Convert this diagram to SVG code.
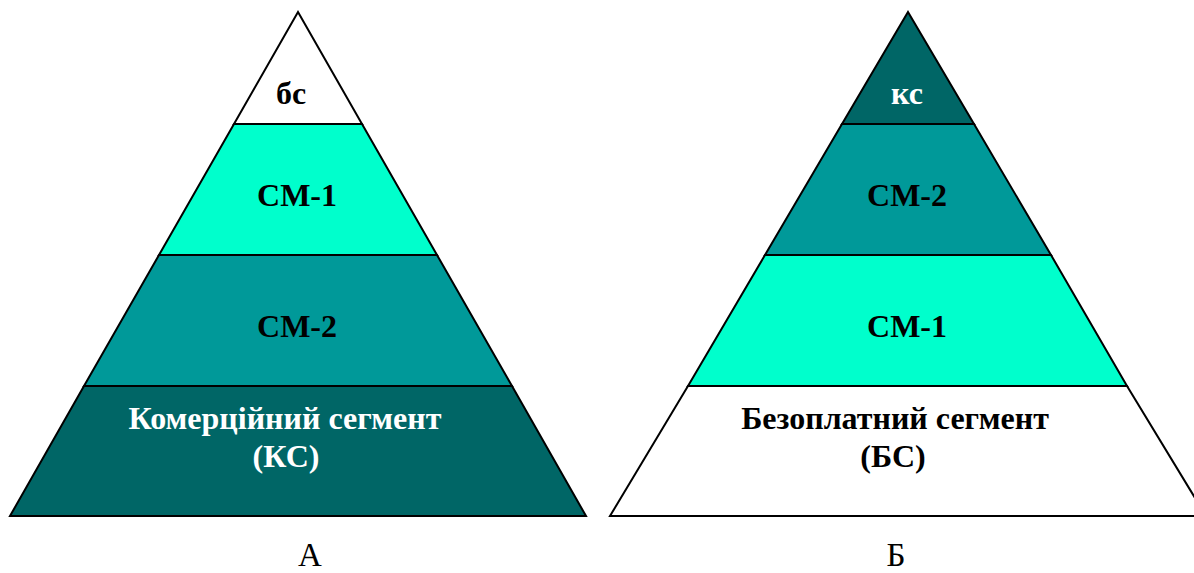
<svg xmlns="http://www.w3.org/2000/svg" width="1194" height="573" viewBox="0 0 1194 573">
<style>
.ln{stroke:#000;stroke-width:2;stroke-linejoin:miter}
.w{fill:#fff}.a{fill:#00ffcc}.t{fill:#009999}.d{fill:#006666}
.b{font-family:"Liberation Serif","Times New Roman",serif;font-weight:bold;font-size:32px;text-anchor:middle}
.bk{fill:#000}.wt{fill:#fff}
.lbl{font-family:"Liberation Serif","Times New Roman",serif;font-size:33px;text-anchor:middle;fill:#000}
</style>
<g id="pyramidA">
<polygon class="ln w" points="298,12 362,124 234,124"/>
<polygon class="ln a" points="234,124 362,124 437,255 159,255"/>
<polygon class="ln t" points="159,255 437,255 512,386 84,386"/>
<polygon class="ln d" points="84,386 512,386 586,516 10,516"/>
<text class="b bk" x="291" y="104">бс</text>
<text class="b bk" x="297" y="206">СМ-1</text>
<text class="b bk" x="297" y="337">СМ-2</text>
<text class="b wt" x="285" y="429">Комерційний сегмент</text>
<text class="b wt" x="286" y="467">(КС)</text>
</g>
<g id="pyramidB">
<polygon class="ln d" points="908,12 974,124 842,124"/>
<polygon class="ln t" points="842,124 974,124 1051,255 765,255"/>
<polygon class="ln a" points="765,255 1051,255 1127,386 688,386"/>
<polygon class="ln w" points="688,386 1127,386 1206,516 610,516"/>
<text class="b wt" x="907" y="104">кс</text>
<text class="b bk" x="907" y="206">СМ-2</text>
<text class="b bk" x="907" y="337">СМ-1</text>
<text class="b bk" x="895" y="429">Безоплатний сегмент</text>
<text class="b bk" x="893" y="467">(БС)</text>
</g>
<g id="labels">
<text class="lbl" x="310" y="566">А</text>
<text class="lbl" x="896" y="566">Б</text>
</g>
</svg>
